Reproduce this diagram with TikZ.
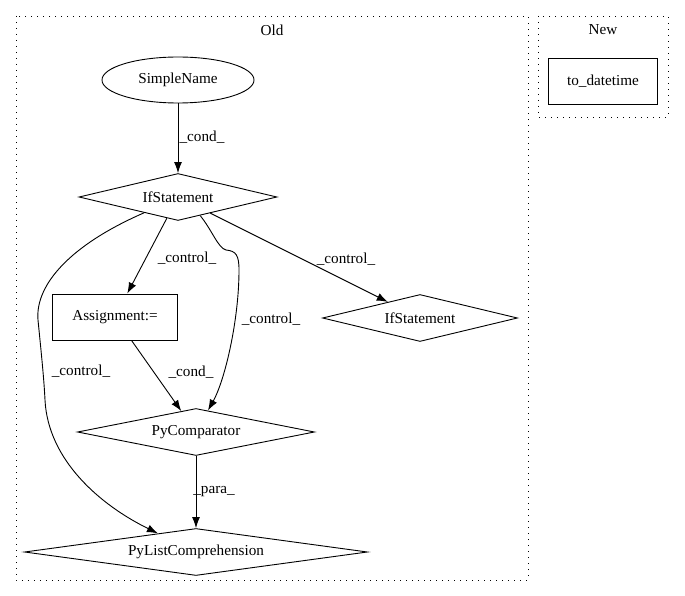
\documentclass[tikz,border=0pt]{standalone}
\usepackage{fontspec}
\setmainfont{Liberation Serif}
\usetikzlibrary{shapes.geometric,arrows.meta}

\begin{document}
\begin{tikzpicture}[
	x=1pt, y=-1pt,
	font=\fontsize{15.2}{17}\selectfont,
	line width=0.9pt,
	>={Latex[length=11pt,width=8pt]},
	cluster/.style={draw,dash pattern=on 1.3pt off 4.7pt},
	ell/.style={ellipse,draw,minimum width=152pt,minimum height=46pt,inner sep=0pt},
	dia/.style={diamond,draw,aspect=6,inner sep=0pt,minimum height=47pt},
	box/.style={rectangle,draw,minimum height=46pt,inner sep=0pt},
	lbl/.style={inner sep=0pt},
	]
\useasboundingbox (0,0) rectangle (685,596);

\draw[cluster] (16,16) rectangle (528,580);
\node (old) at (272,30) {Old};
\draw[cluster] (538,16) rectangle (668,117);
\node (new) at (603,30) {New};

\node [box,minimum width=109pt] (todt) at (603,81) {to\_datetime};

\node [ell] (simple) at (178,80) {SimpleName};
\node [dia,minimum width=198pt] (if1) at (178,197) {IfStatement};
\node [box,minimum width=125pt] (assign) at (115,317) {Assignment:=};
\node [dia,minimum width=195pt] (if2) at (420,318) {IfStatement};
\node [dia,minimum width=237pt] (pycomp) at (196,432) {PyComparator};
\node [dia,minimum width=343pt] (pylist) at (196,552) {PyListComprehension};

\draw[->] (simple) -- (if1);
\node [lbl] (l1) at (202,137) {\_cond\_};
\draw[->] (if1) -- (assign);
\node [lbl] (l2) at (187,258) {\_control\_};
\draw[->] (if1) -- (if2);
\node [lbl] (l3) at (346,259) {\_control\_};
\draw[->] (if1.-40) .. controls (212,230) and (218,248) .. (226,250)
	.. controls (236,251) and (239,255) .. (239,270)
	.. controls (239,320) and (225,380) .. (pycomp);
\node [lbl] (l4) at (271,319) {\_control\_};
\draw[->] (if1.205) .. controls (70,245) and (35,285) .. (38,320)
	.. controls (42,360) and (44,380) .. (45,400)
	.. controls (48,460) and (100,505) .. (pylist);
\node [lbl] (l5) at (81,371) {\_control\_};
\draw[->] (assign) -- (pycomp);
\node [lbl] (l6) at (191,372) {\_cond\_};
\draw[->] (pycomp) -- (pylist);
\node [lbl] (l7) at (214,492) {\_para\_};
\end{tikzpicture}
\end{document}
